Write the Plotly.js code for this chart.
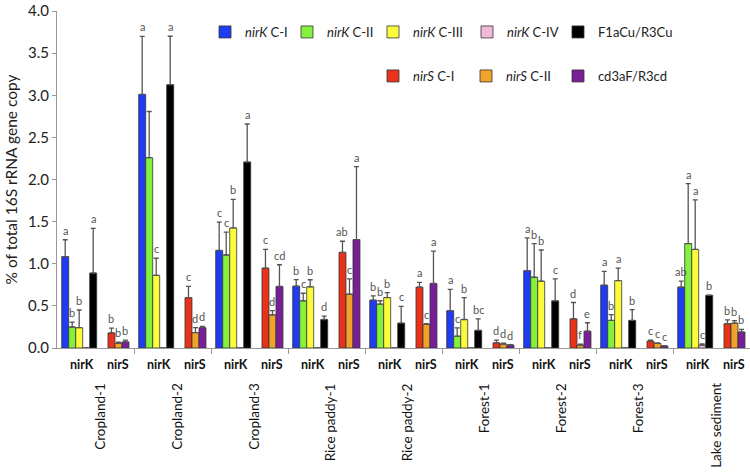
<!DOCTYPE html>
<html>
<head>
<meta charset="utf-8">
<script src="https://cdn.plot.ly/plotly-3.0.1.min.js"></script>
<style>html,body{margin:0;padding:0;background:#fff}#chart{width:750px;height:474px}</style>
</head>
<body>
<div id="chart"></div>
<script>
// ---- data ----
const sites = ["Cropland-1","Cropland-2","Cropland-3","Rice paddy-1","Rice paddy-2","Forest-1","Forest-2","Forest-3","Lake sediment"];
const groupLabels = ["nirK","nirS"];

const seriesNames = ["<i>nirK</i> C-I","<i>nirK</i> C-II","<i>nirK</i> C-III","<i>nirK</i> C-IV","F1aCu/R3Cu","<i>nirS</i> C-I","<i>nirS</i> C-II","cd3aF/R3cd"];

const nirK_CI   = [1.085, 3.010, 1.158, 0.735, 0.568, 0.443, 0.918, 0.746, 0.723];
const nirK_CII  = [0.249, 2.259, 1.104, 0.560, 0.521, 0.140, 0.840, 0.327, 1.240];
const nirK_CIII = [0.241, 0.863, 1.426, 0.727, 0.599, 0.338, 0.793, 0.800, 1.170];
const nirK_CIV  = [0, 0, 0, 0, 0, 0, 0, 0, 0.035];
const F1aCu     = [0.890, 3.125, 2.208, 0.338, 0.296, 0.210, 0.560, 0.327, 0.626];
const nirS_CI   = [0.179, 0.598, 0.948, 1.135, 0.723, 0.062, 0.346, 0.082, 0.288];
const nirS_CII  = [0.055, 0.183, 0.393, 0.638, 0.280, 0.047, 0.035, 0.055, 0.295];
const cd3aF     = [0.073, 0.241, 0.731, 1.287, 0.766, 0.035, 0.200, 0.023, 0.190];

const err_nirK_CI   = [0.200, 0.690, 0.335, 0.077, 0.050, 0.253, 0.390, 0.164, 0.070];
const err_nirK_CII  = [0.058, 0.548, 0.272, 0.090, 0.040, 0.100, 0.400, 0.070, 0.710];
const err_nirK_CIII = [0.210, 0.202, 0.339, 0.083, 0.058, 0.261, 0.370, 0.148, 0.587];
const err_nirK_CIV  = [0, 0, 0, 0, 0, 0, 0, 0, 0.015];
const err_F1aCu     = [0.530, 0.575, 0.451, 0.040, 0.198, 0.136, 0.260, 0.128, 0.000];
const err_nirS_CI   = [0.058, 0.133, 0.222, 0.132, 0.055, 0.031, 0.194, 0.010, 0.045];
const err_nirS_CII  = [0.015, 0.060, 0.050, 0.182, 0.010, 0.010, 0.010, 0.005, 0.030];
const err_cd3aF     = [0.020, 0.015, 0.257, 0.867, 0.385, 0.005, 0.100, 0.005, 0.030];

const let_nirK_CI   = ["a","a","c","b","b","a","a","a","ab"];
const let_nirK_CII  = ["b","","c","c","b","c","b","b","a"];
const let_nirK_CIII = ["b","c","b","b","b","b","b","a","a"];
const let_nirK_CIV  = ["","","","","","","","","c"];
const let_F1aCu     = ["a","a","a","d","c","bc","c","b","b"];
const let_nirS_CI   = ["b","c","c","ab","a","d","d","c","b"];
const let_nirS_CII  = ["b","d","d","c","c","d","f","c","b"];
const let_cd3aF     = ["b","d","cd","a","a","d","e","c","b"];

// ---- styling / layout helpers ----
const colors = ["#1f3cf2","#84f23c","#fbfb3c","#f2b8d8","#000000","#e8321a","#f0a22a","#7a1e98"];
const values = [nirK_CI,nirK_CII,nirK_CIII,nirK_CIV,F1aCu,nirS_CI,nirS_CII,cd3aF];
const errs   = [err_nirK_CI,err_nirK_CII,err_nirK_CIII,err_nirK_CIV,err_F1aCu,err_nirS_CI,err_nirS_CII,err_cd3aF];
const lets   = [let_nirK_CI,let_nirK_CII,let_nirK_CIII,let_nirK_CIV,let_F1aCu,let_nirS_CI,let_nirS_CII,let_cd3aF];

// legend placement (pixel position of the swatch left edge / row centre)
const legLeftPx = [220, 302, 388, 482, 573, 388, 481, 573];
const legRowPx  = [32, 32, 32, 32, 32, 76, 76, 76];
const PLOT_L = 57, PLOT_W = 693, PLOT_T = 11, PLOT_H = 337;

const barW = 0.0909;
function slotCenter(s){
  if (s < 5) return -0.439 + barW*s + barW/2;
  return 0.162 + barW*(s-5) + barW/2;
}

const FONT = "Lato, 'Open Sans', sans-serif";
const traces = [];
const annotations = [];
const legends = {};
for (let s = 0; s < 8; s++){
  const xs = sites.map((_, i) => i + slotCenter(s));
  const legId = s === 0 ? "legend" : "legend" + (s + 1);
  traces.push({
    type: "bar",
    name: seriesNames[s],
    x: xs,
    y: values[s],
    width: barW,
    marker: {color: colors[s], line: {color: "#333", width: 0.8}},
    error_y: {type: "data", symmetric: false, array: errs[s], arrayminus: values[s].map(() => 0),
              color: "#555", thickness: 1.3, width: 2.5},
    legend: legId,
    hoverinfo: "x+y"
  });
  legends[legId] = {
    x: (legLeftPx[s] + 7 - 22 - PLOT_L) / PLOT_W,
    y: (PLOT_T + PLOT_H - legRowPx[s]) / PLOT_H,
    xanchor: "left", yanchor: "middle",
    font: {family: FONT, size: 13, color: "#222"}, bgcolor: "rgba(0,0,0,0)",
    borderwidth: 0
  };
  sites.forEach((_, i) => {
    if (lets[s][i]) {
      annotations.push({
        xref: "x", yref: "y", x: xs[i], y: values[s][i] + errs[s][i],
        text: lets[s][i], showarrow: false, yanchor: "bottom", yshift: 1,
        font: {family: FONT, size: 11, color: "#555"}
      });
    }
  });
}

// x labels: nirK / nirS and site names
const kCenter = (slotCenter(0) + slotCenter(4)) / 2;
const sCenter = (slotCenter(5) + slotCenter(7)) / 2;
const labY1 = -16 / PLOT_H, labY2 = -33 / PLOT_H;
sites.forEach((name, i) => {
  annotations.push({xref: "x", yref: "paper", x: i + kCenter + 0.03, y: labY1, text: "<b>" + groupLabels[0] + "</b>",
    showarrow: false, yanchor: "middle", font: {family: FONT, size: 12.5, color: "#111"}});
  annotations.push({xref: "x", yref: "paper", x: i + sCenter, y: labY1, text: "<b>" + groupLabels[1] + "</b>",
    showarrow: false, yanchor: "middle", font: {family: FONT, size: 12.5, color: "#111"}});
  annotations.push({xref: "x", yref: "paper", x: i + 0.05, y: labY2, text: name, textangle: -90,
    showarrow: false, yanchor: "top", xanchor: "center", font: {family: FONT, size: 13.5, color: "#111"}});
});

const layout = Object.assign({
  width: 750, height: 474,
  margin: {l: PLOT_L, r: 0, t: PLOT_T, b: 474 - PLOT_T - PLOT_H},
  paper_bgcolor: "#fff", plot_bgcolor: "#fff",
  barmode: "overlay",
  font: {family: FONT, size: 13, color: "#222"},
  xaxis: {
    range: [-0.5, 8.5], showgrid: false, zeroline: false,
    showline: true, linecolor: "#999", linewidth: 1,
    tickvals: sites.slice(1).map((_, i) => i + 0.5), ticktext: sites.slice(1).map(() => ""),
    ticks: "outside", ticklen: 5, tickcolor: "#999", tickwidth: 1
  },
  yaxis: {
    range: [0, 4], dtick: 0.5, tickformat: ".1f", showgrid: false, zeroline: false,
    showline: true, linecolor: "#999", linewidth: 1,
    ticks: "outside", ticklen: 4, tickcolor: "#999", ticklabeloverflow: "allow",
    tickfont: {family: FONT, size: 15, color: "#222"},
    title: {text: "% of total 16S rRNA gene copy", font: {family: FONT, size: 15.5, color: "#222"}, standoff: 6}
  },
  annotations: annotations,
  showlegend: true
}, legends);

Plotly.newPlot("chart", traces, layout, {displayModeBar: false, staticPlot: true});
</script>
</body>
</html>
